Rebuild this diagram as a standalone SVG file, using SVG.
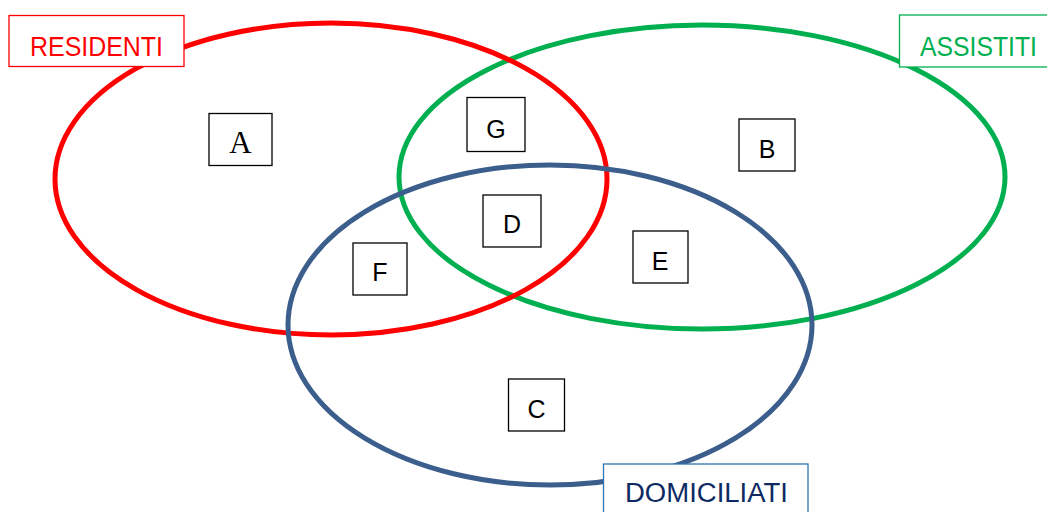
<svg xmlns="http://www.w3.org/2000/svg" width="1047" height="512" viewBox="0 0 1047 512">
<style>
.set{fill:none;stroke-width:5}
.box{fill:#fff;stroke:#000;stroke-width:1.3}
.lt{font-family:"Liberation Sans",Arial,sans-serif;font-size:25px;fill:#000;text-anchor:middle}
.lbl{font-family:"Liberation Sans",Arial,sans-serif;font-size:27px;text-anchor:middle}
</style>
<rect width="1047" height="512" fill="#fff"/>
<g id="sets">
<ellipse id="set-assistiti" class="set" cx="702" cy="177" rx="303" ry="152" stroke="#00B050"/>
<ellipse id="set-residenti" class="set" cx="331" cy="179" rx="276" ry="156" stroke="#FF0000"/>
<ellipse id="set-domiciliati" class="set" cx="550" cy="325" rx="262" ry="160" stroke="#3B5E8C"/>
</g>
<g id="label-residenti">
<rect x="9" y="15.5" width="175" height="51" fill="#fff" stroke="#FF0000" stroke-width="1.3"/>
<text class="lbl" x="96.5" y="56" fill="#FF0000" textLength="133" lengthAdjust="spacingAndGlyphs">RESIDENTI</text>
</g>
<g id="label-assistiti">
<rect x="899.5" y="15" width="160" height="52" fill="#fff" stroke="#00B050" stroke-width="1.3"/>
<text class="lbl" x="978.5" y="56" fill="#00B050" textLength="117" lengthAdjust="spacingAndGlyphs">ASSISTITI</text>
</g>
<g id="label-domiciliati">
<rect x="603.5" y="464" width="204.5" height="60" fill="#fff" stroke="#2E75B6" stroke-width="1.3"/>
<text class="lbl" x="706.5" y="502" fill="#0D2A63" textLength="163" lengthAdjust="spacingAndGlyphs">DOMICILIATI</text>
</g>
<g id="node-A">
<rect class="box" x="209" y="113.5" width="63" height="52"/>
<text x="240.5" y="153" font-family="'Liberation Serif','Times New Roman',serif" font-size="31" text-anchor="middle" fill="#000">A</text>
</g>
<g id="node-G">
<rect class="box" x="467" y="97.5" width="58" height="54"/>
<text class="lt" x="496" y="138">G</text>
</g>
<g id="node-B">
<rect class="box" x="739" y="119" width="56" height="52"/>
<text class="lt" x="767" y="158">B</text>
</g>
<g id="node-D">
<rect class="box" x="483" y="195" width="58" height="52"/>
<text class="lt" x="512" y="233">D</text>
</g>
<g id="node-F">
<rect class="box" x="353" y="243" width="54" height="52"/>
<text class="lt" x="380" y="281">F</text>
</g>
<g id="node-E">
<rect class="box" x="633" y="231" width="55" height="52"/>
<text class="lt" x="660" y="270">E</text>
</g>
<g id="node-C">
<rect class="box" x="508.5" y="379" width="56" height="52"/>
<text class="lt" x="536.5" y="417.5">C</text>
</g>
<g id="connectors"></g>
</svg>
